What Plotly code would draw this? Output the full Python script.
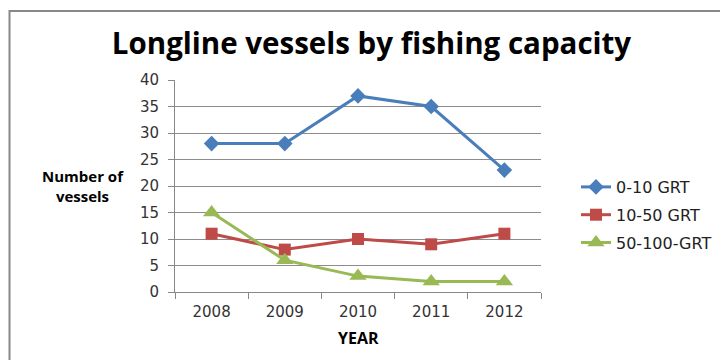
import plotly.graph_objects as go

years = ["2008", "2009", "2010", "2011", "2012"]
grt_0_10 = [28, 28, 37, 35, 23]
grt_10_50 = [11, 8, 10, 9, 11]
grt_50_100 = [15, 6, 3, 2, 2]
series_names = ["0-10 GRT", "10-50 GRT", "50-100-GRT"]
y_ticks = [0, 5, 10, 15, 20, 25, 30, 35, 40]

L, R, T, B = 175, 179, 80, 68
W, H = 720, 360
pw, ph = W - L - R, H - T - B

def px(x):
    return (x - L) / pw

def py(y):
    return 1 - (y - T) / ph

fig = go.Figure()
styles = [
    ("#4A7EBB", "diamond", 12),
    ("#BE4B48", "square", 12),
    ("#98B954", "triangle-up", 15),
]
for i, (vals, name) in enumerate(zip([grt_0_10, grt_10_50, grt_50_100], series_names)):
    c, sym, sz = styles[i]
    fig.add_trace(go.Scatter(
        x=years, y=vals, name=name, mode="lines+markers",
        line=dict(color=c, width=3),
        marker=dict(symbol=sym, size=sz, color=c),
        legendgroup=str(i),
    ))

tick_font = dict(family="DejaVu Sans", size=15, color="#333333")
fig.update_layout(
    width=W, height=H,
    margin=dict(l=L, r=R, t=T, b=B, autoexpand=False),
    paper_bgcolor="white", plot_bgcolor="white",
    title=dict(text="<b>Longline vessels by fishing capacity</b>",
               font=dict(family="Open Sans", size=29.5, color="black"),
               xref="container", x=371.5 / W, xanchor="center",
               yref="container", y=1 - 44 / H, yanchor="middle"),
    xaxis=dict(type="category", range=[-0.5, 4.5], tickson="boundaries",
               ticks="outside", ticklen=6, tickcolor="#888888",
               showline=True, linecolor="#888888", linewidth=1,
               showgrid=False, tickfont=tick_font, fixedrange=True,
               ticklabelstandoff=6, automargin=False),
    yaxis=dict(range=[0, 40], tickvals=y_ticks, ticks="outside", ticklen=6,
               tickcolor="#888888", showline=True, linecolor="#888888",
               gridcolor="#8c8c8c", gridwidth=1, zeroline=False,
               tickfont=tick_font, fixedrange=True, ticklabelstandoff=6,
               automargin=False),
    legend=dict(x=px(576), y=py(170), xanchor="left", yanchor="top",
                font=dict(family="DejaVu Sans", size=16, color="#222222"),
                traceorder="grouped", tracegroupgap=4,
                bgcolor="rgba(0,0,0,0)"),
    showlegend=True,
)

fig.add_annotation(text="<b>Number of<br>vessels</b>", x=px(83), y=py(186),
                   xref="paper", yref="paper", showarrow=False,
                   xanchor="center", yanchor="middle",
                   font=dict(family="Open Sans", size=15, color="black"),
                   align="center")
fig.add_annotation(text="<b>YEAR</b>", x=px(358), y=py(338),
                   xref="paper", yref="paper", showarrow=False,
                   xanchor="center", yanchor="middle",
                   font=dict(family="Open Sans", size=16, color="black"))

fig.add_shape(type="rect", xref="paper", yref="paper",
              x0=px(9.5), x1=px(730), y0=py(370), y1=py(11),
              line=dict(color="#888888", width=2), fillcolor="rgba(0,0,0,0)",
              layer="below")

fig.write_html("out.html")
